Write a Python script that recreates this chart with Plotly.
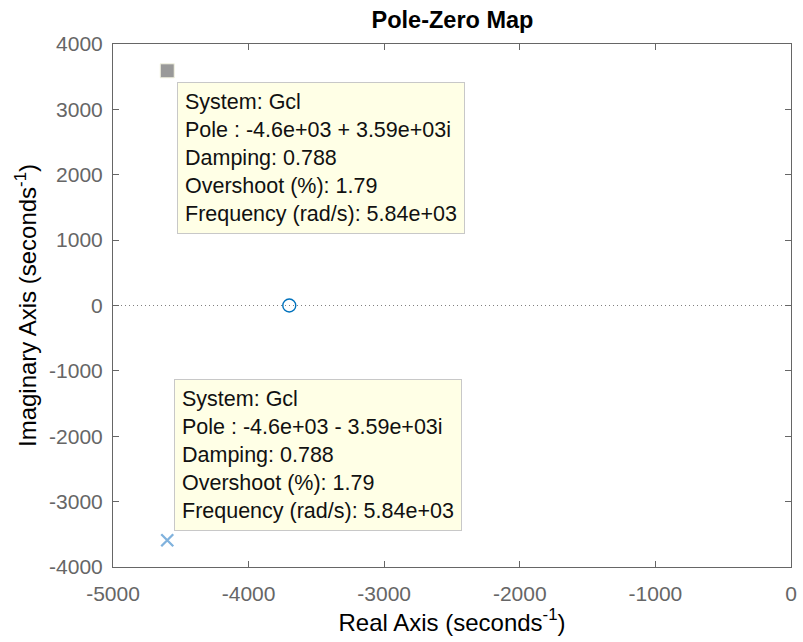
import plotly.graph_objects as go

# Data
pole_re = [-4600, -4600]
pole_im = [3590, -3590]
zero_re = [-3700]
zero_im = [0]
x_ticks = [-5000, -4000, -3000, -2000, -1000, 0]
y_ticks = [-4000, -3000, -2000, -1000, 0, 1000, 2000, 3000, 4000]
tip_lines_upper = ["System: Gcl", "Pole : -4.6e+03 + 3.59e+03i", "Damping: 0.788",
                   "Overshoot (%): 1.79", "Frequency (rad/s): 5.84e+03"]
tip_lines_lower = ["System: Gcl", "Pole : -4.6e+03 - 3.59e+03i", "Damping: 0.788",
                   "Overshoot (%): 1.79", "Frequency (rad/s): 5.84e+03"]

FONT = "Liberation Sans, Arial, Helvetica, sans-serif"

fig = go.Figure()

# zero
fig.add_trace(go.Scatter(x=zero_re, y=zero_im, mode="markers",
                         marker=dict(symbol="circle-open", size=13, color="#0072BD",
                                     line=dict(width=1.4, color="#0072BD")),
                         showlegend=False, hoverinfo="skip"))
# lower pole (cross)
fig.add_trace(go.Scatter(x=[pole_re[1]], y=[pole_im[1]], mode="markers",
                         marker=dict(symbol="x-thin-open", size=12, color="#80B2DD",
                                     line=dict(width=2.3, color="#80B2DD")),
                         showlegend=False, hoverinfo="skip"))
# upper pole (selected datatip marker)
fig.add_trace(go.Scatter(x=[pole_re[0]], y=[pole_im[0]], mode="markers",
                         marker=dict(symbol="square", size=14, color="#999999",
                                     line=dict(width=1, color="#F2F2E0")),
                         showlegend=False, hoverinfo="skip"))

# dotted zero line
fig.add_shape(type="line", xref="paper", yref="y", x0=0, x1=1, y0=0, y1=0,
              line=dict(color="#808080", width=1, dash="1px,3px"), layer="below")

# datatips
tip_style = dict(showarrow=False, align="left", bgcolor="#FFFFE6",
                 bordercolor="#C8C8C8", borderwidth=1, borderpad=7,
                 font=dict(family=FONT, size=21.5, color="#111111"))
fig.add_annotation(x=pole_re[0], y=pole_im[0], xref="x", yref="y",
                   text="<br>".join(tip_lines_upper),
                   xanchor="left", yanchor="top", xshift=10, yshift=-11, **tip_style)
fig.add_annotation(x=pole_re[1], y=pole_im[1], xref="x", yref="y",
                   text="<br>".join(tip_lines_lower),
                   xanchor="left", yanchor="bottom", xshift=7, yshift=9, **tip_style)

axis_common = dict(showgrid=False, zeroline=False, showline=True, mirror="ticks",
                   linecolor="#666666", linewidth=1, ticks="inside", ticklen=6,
                   tickcolor="#666666", tickfont=dict(family=FONT, size=21, color="#666666"))

fig.update_layout(
    width=803, height=642,
    margin=dict(l=113, r=6, t=44, b=75),
    paper_bgcolor="white", plot_bgcolor="white",
    title=dict(text="<b>Pole-Zero Map</b>", x=0.5635, xanchor="center", y=0.969,
               yanchor="middle", font=dict(family=FONT, size=23.5, color="black")),
    xaxis=dict(range=[-5000, 0], tickvals=x_ticks, ticktext=[str(v) for v in x_ticks],
               ticklabelstandoff=8,
               title=dict(text="Real Axis (seconds<sup>-1</sup>)", standoff=9,
                          font=dict(family=FONT, size=24, color="black")),
               **axis_common),
    yaxis=dict(range=[-4000, 4000], tickvals=y_ticks, ticktext=[str(v) for v in y_ticks],
               ticklabelstandoff=5,
               title=dict(text="Imaginary Axis (seconds<sup>-1</sup>)", standoff=5,
                          font=dict(family=FONT, size=24, color="black")),
               **axis_common),
)

fig.write_html("out.html")
